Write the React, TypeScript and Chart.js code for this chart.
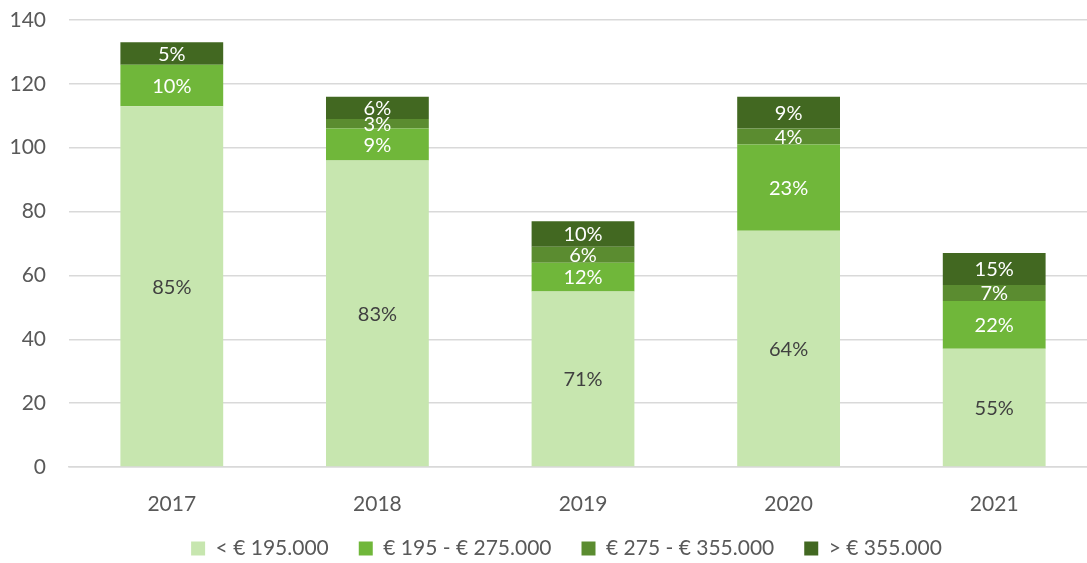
import React, { useEffect, useRef } from "react";
import { Chart, registerables } from "chart.js";

Chart.register(...registerables);

const years = ["2017", "2018", "2019", "2020", "2021"];
const seriesNames = ["< € 195.000", "€ 195 - € 275.000", "€ 275 - € 355.000", "> € 355.000"];
const below195 = [113, 96, 55, 74, 37];
const from195to275 = [13, 10, 9, 27, 15];
const from275to355 = [0, 3, 5, 5, 5];
const above355 = [7, 7, 8, 10, 10];
const yTicks = [0, 20, 40, 60, 80, 100, 120, 140];

const colors = ["#C7E6AF", "#70B73A", "#5B8C30", "#426821"];
const labelColors = ["#404040", "#FFFFFF", "#FFFFFF", "#FFFFFF"];
const FONT = "Lato, 'Open Sans', sans-serif";

const labelPlugin = {
  id: "segLabels",
  afterDatasetsDraw(chart: any) {
    const ctx = chart.ctx;
    const ds = chart.data.datasets;
    const n = chart.data.labels.length;
    const totals: number[] = [];
    for (let i = 0; i < n; i++) {
      totals.push(ds.reduce((s: number, d: any) => s + d.data[i], 0));
    }
    ctx.save();
    ctx.font = `20px ${FONT}`;
    ctx.textAlign = "center";
    ctx.textBaseline = "middle";
    ds.forEach((d: any, di: number) => {
      const meta = chart.getDatasetMeta(di);
      meta.data.forEach((el: any, i: number) => {
        const v = d.data[i];
        if (!v) return;
        const pct = Math.round((v / totals[i]) * 100) + "%";
        ctx.fillStyle = labelColors[di];
        ctx.fillText(pct, el.x, (el.y + el.base) / 2 + 1);
      });
    });
    ctx.restore();
  },
};

const layoutTweak = {
  id: "layoutTweak",
  afterLayout(chart: any) {
    if (chart.legend) {
      chart.legend.left += 18;
      chart.legend.right += 18;
      chart.legend.top += 4;
      chart.legend.bottom += 4;
    }
    if (chart.scales && chart.scales.x) {
      chart.scales.x.bottom += 20;
    }
  },
};

export default function App() {
  const ref = useRef<HTMLCanvasElement | null>(null);
  useEffect(() => {
    if (!ref.current) return;
    const data = [below195, from195to275, from275to355, above355];
    const chart = new Chart(ref.current, {
      type: "bar",
      data: {
        labels: years,
        datasets: data.map((d, i) => ({
          label: seriesNames[i],
          data: d,
          backgroundColor: colors[i],
          borderWidth: 0,
          barPercentage: 0.5,
          categoryPercentage: 1,
        })),
      },
      options: {
        animation: false,
        responsive: false,
        maintainAspectRatio: false,
        layout: { padding: { top: 20, left: 0, right: 0, bottom: -2 } },
        scales: {
          x: {
            stacked: true,
            grid: { display: false },
            border: { display: true, color: "#D9D9D9", width: 1.5 },
            afterFit: (scale: any) => {
              scale.height = 37;
            },
            ticks: { color: "#595959", font: { family: FONT, size: 21 }, padding: 17 },
          },
          y: {
            stacked: true,
            min: 0,
            max: 140,
            afterBuildTicks: (scale: any) => {
              scale.ticks = yTicks.map((v) => ({ value: v }));
            },
            afterFit: (scale: any) => {
              scale.width = 69;
              scale.paddingTop = 0;
              scale.paddingBottom = 0;
            },
            grid: { color: "#D9D9D9", lineWidth: 1.5, drawTicks: false },
            border: { display: false },
            ticks: { color: "#595959", font: { family: FONT, size: 21 }, padding: 23 },
          },
        },
        plugins: {
          legend: {
            position: "bottom",
            labels: {
              boxWidth: 14,
              boxHeight: 14,
              padding: 30,
              color: "#595959",
              font: { family: FONT, size: 21 },
            },
          },
          tooltip: { enabled: false },
        },
      },
      plugins: [labelPlugin, layoutTweak],
    });
    return () => chart.destroy();
  }, []);
  return (
    <div style={{ position: "fixed", left: 0, top: 0, width: 1087, height: 563, overflow: "hidden", background: "#fff" }}>
      <canvas ref={ref} width={1097} height={563} style={{ display: "block" }} />
    </div>
  );
}
